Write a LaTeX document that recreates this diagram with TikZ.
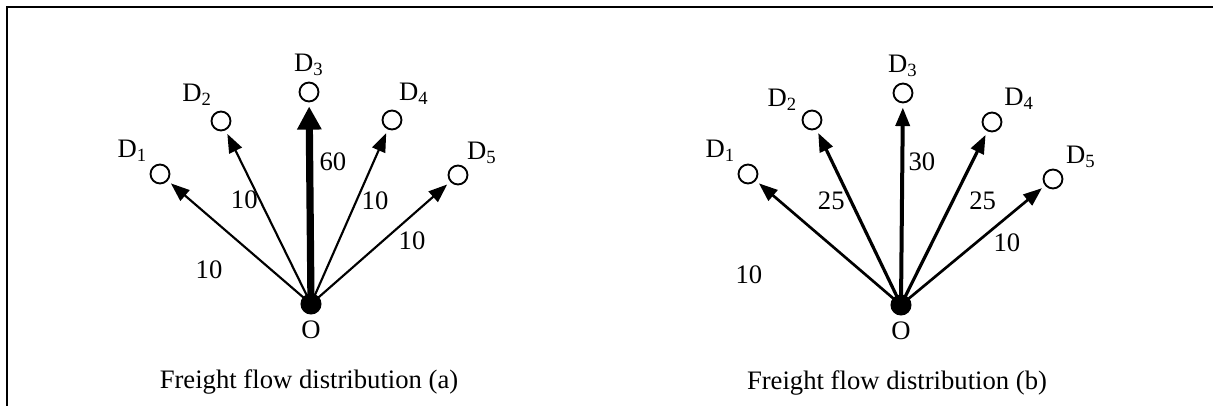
\documentclass[tikz,border=0pt]{standalone}
\usepackage{fontspec}
\setmainfont{Liberation Serif}
\usetikzlibrary{arrows.meta,positioning}

\begin{document}
\begin{tikzpicture}[
    x=0.375pt, y=-0.375pt,
    dest/.style={draw, circle, line width=0.7pt, minimum size=7.1pt, inner sep=0pt},
    origin/.style={fill, circle, minimum size=7.9pt, inner sep=0pt},
    dlab/.style={inner sep=1pt, label distance=1pt},
    olab/.style={inner sep=1pt, label distance=1pt},
    flow/.style={line width=#1, -{Triangle[length=7pt,width=5.2pt]}, shorten >=1.5pt},
    bigflow/.style={line width=2.7pt, -{Triangle[length=8.7pt,width=8.7pt]}, shorten >=1.5pt}
]
\useasboundingbox (0,0) rectangle (1213,406);

% frame
\draw[line width=0.75pt] (7,406) -- (7,7) -- (1213,7);

% distribution (a)
\node[origin, label={[olab]below:O}] (Oa) at (311,304) {};
\node[dest, label={[dlab]135:D\textsubscript{1}}] (D1a) at (160,174) {};
\node[dest, label={[dlab]115:D\textsubscript{2}}] (D2a) at (221,121) {};
\node[dest, label={[dlab]above:D\textsubscript{3}}] (D3a) at (309,92) {};
\node[dest, label={[dlab]72:D\textsubscript{4}}] (D4a) at (392,120) {};
\node[dest, label={[dlab, label distance=0pt]55:D\textsubscript{5}}] (D5a) at (458,175) {};

\draw[flow=0.8pt] (Oa.center) -- node[xshift=-11.4pt, yshift=-10.1pt] {10} (D1a);
\draw[flow=0.8pt] (Oa.center) -- node[xshift=-9pt, yshift=6.6pt] {10} (D2a);
\draw[bigflow] (Oa.center) -- node[xshift=8.6pt, yshift=15.4pt] {60} (D3a);
\draw[flow=0.8pt] (Oa.center) -- node[xshift=9.6pt, yshift=6pt] {10} (D4a);
\draw[flow=0.8pt] (Oa.center) -- node[xshift=11.8pt, yshift=0.9pt] {10} (D5a);

\node (capA) at (309,382) {Freight flow distribution (a)};

% distribution (b)
\node[origin, label={[olab]below:O}] (Ob) at (901,305) {};
\node[dest, label={[dlab]135:D\textsubscript{1}}] (D1b) at (748,174) {};
\node[dest, label={[dlab]150:D\textsubscript{2}}] (D2b) at (812,120) {};
\node[dest, label={[dlab]above:D\textsubscript{3}}] (D3b) at (903,93) {};
\node[dest, label={[dlab]45:D\textsubscript{4}}] (D4b) at (992,122) {};
\node[dest, label={[dlab]40:D\textsubscript{5}}] (D5b) at (1053,179) {};

\draw[flow=1pt] (Ob.center) -- node[xshift=-29.8pt, yshift=-11.8pt] {10} (D1b);
\draw[flow=1.2pt] (Ob.center) -- node[xshift=-10.3pt, yshift=6.2pt] {25} (D2b);
\draw[flow=1.5pt] (Ob.center) -- node[xshift=7.5pt, yshift=16.1pt] {30} (D3b);
\draw[flow=1.2pt] (Ob.center) -- node[xshift=14.4pt, yshift=6.6pt] {25} (D4b);
\draw[flow=1pt] (Ob.center) -- node[xshift=12.75pt, yshift=1.1pt] {10} (D5b);

\node (capB) at (897,383) {Freight flow distribution (b)};
\end{tikzpicture}
\end{document}
